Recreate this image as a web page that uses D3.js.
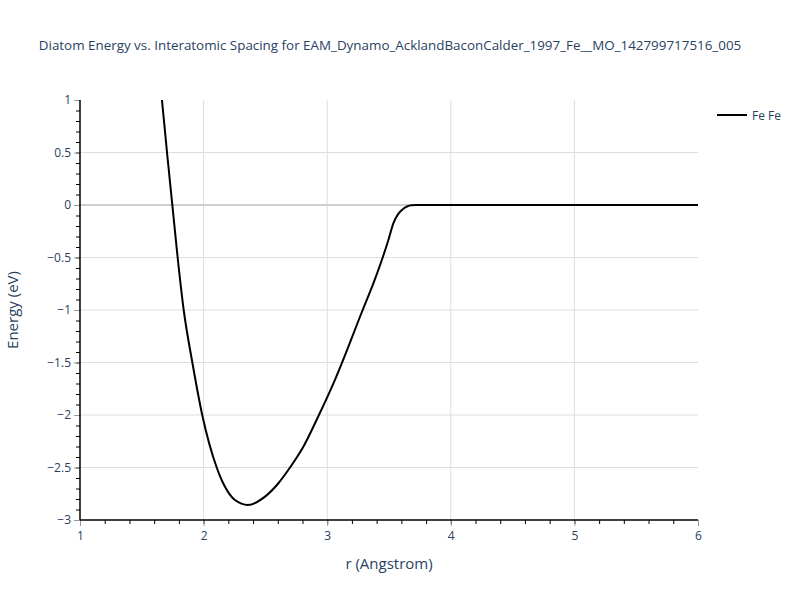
<!DOCTYPE html>
<html>
<head>
<meta charset="utf-8">
<script src="https://cdn.jsdelivr.net/npm/d3@7"></script>
<style>
  body { margin: 0; background: #fff; }
  svg { display: block; font-family: "Open Sans", "Noto Sans", sans-serif; }
</style>
</head>
<body>
<svg id="chart" width="800" height="600"></svg>
<script>
const titleText = "Diatom Energy vs. Interatomic Spacing for EAM_Dynamo_AcklandBaconCalder_1997_Fe__MO_142799717516_005";
const seriesName = "Fe Fe";
const xLabel = "r (Angstrom)";
const yLabel = "Energy (eV)";
const xTicks = [1, 2, 3, 4, 5, 6];
const yTicks = [1, 0.5, 0, -0.5, -1, -1.5, -2, -2.5, -3];
const rValues = [1.648, 1.663, 1.704, 1.747, 1.790, 1.839, 1.909, 1.989, 2.106, 2.146, 2.173, 2.254, 2.358, 2.497, 2.605, 2.699, 2.807, 2.933, 3.062, 3.287, 3.382, 3.449, 3.495, 3.535, 3.575, 3.616, 3.65, 3.68, 3.72, 4.0, 5.0, 6.0];
const energyValues = [1.16, 1.0, 0.5, 0.0, -0.5, -1.0, -1.5, -2.0, -2.5, -2.619, -2.683, -2.81, -2.857, -2.777, -2.65, -2.5, -2.302, -2.0, -1.667, -1.0, -0.72, -0.5, -0.333, -0.175, -0.085, -0.035, -0.012, -0.003, 0.0, 0.0, 0.0, 0.0];

const svg = d3.select("#chart");
const m = { left: 80, right: 102, top: 100, bottom: 80 };
const W = 800, H = 600;
const x = d3.scaleLinear().domain([1, 6]).range([m.left, W - m.right]);
const y = d3.scaleLinear().domain([-3, 1]).range([H - m.bottom, m.top]);
const textColor = "#2a3f5f";

// grid
const g = svg.append("g");
g.selectAll("line.vg").data(xTicks.filter(d => d > 1 && d < 6)).enter().append("line")
  .attr("x1", d => x(d)).attr("x2", d => x(d)).attr("y1", y(1)).attr("y2", y(-3))
  .attr("stroke", "#dedede").attr("stroke-width", 1);
g.selectAll("line.hg").data(yTicks.filter(d => d < 1 && d > -3 && d !== 0)).enter().append("line")
  .attr("x1", x(1)).attr("x2", x(6)).attr("y1", d => y(d)).attr("y2", d => y(d))
  .attr("stroke", "#dedede").attr("stroke-width", 1);
g.append("line").attr("x1", x(1)).attr("x2", x(6)).attr("y1", y(0)).attr("y2", y(0))
  .attr("stroke", "#cfcfcf").attr("stroke-width", 2);

// curve
svg.append("clipPath").attr("id", "clip").append("rect")
  .attr("x", x(1)).attr("y", y(1)).attr("width", x(6) - x(1)).attr("height", y(-3) - y(1));
const pts = rValues.map((r, i) => [r, energyValues[i]]);
svg.append("path").datum(pts).attr("clip-path", "url(#clip)")
  .attr("fill", "none").attr("stroke", "#000").attr("stroke-width", 2)
  .attr("d", d3.line().x(d => x(d[0])).y(d => y(d[1])).curve(d3.curveMonotoneX));

// x axis
const xAxisG = svg.append("g").attr("transform", `translate(0,${y(-3)})`);
xAxisG.call(d3.axisBottom(x).tickValues(d3.range(1, 6.001, 0.2)).tickSize(4).tickFormat(""))
  .call(a => a.select(".domain").remove())
  .call(a => a.selectAll("line").attr("stroke", "#000"));
xAxisG.append("g").call(d3.axisBottom(x).tickValues(xTicks).tickSize(6).tickFormat(d3.format("d")))
  .call(a => a.select(".domain").remove())
  .call(a => a.selectAll("line").attr("stroke", "#999"))
  .call(a => a.selectAll("text").attr("fill", textColor).attr("font-size", 12).attr("dy", "0.95em").attr("font-family", '"Open Sans", sans-serif'));
xAxisG.append("line").attr("x1", x(1)).attr("x2", x(6)).attr("stroke", "#000").attr("stroke-width", 1.5);

// y axis
const yAxisG = svg.append("g").attr("transform", `translate(${x(1)},0)`);
yAxisG.call(d3.axisLeft(y).tickValues(d3.range(-3, 1.001, 0.1)).tickSize(4).tickFormat(""))
  .call(a => a.select(".domain").remove())
  .call(a => a.selectAll("line").attr("stroke", "#000"));
const fmtY = d => (d < 0 ? "\u2212" + Math.abs(d) : String(d));
yAxisG.append("g").call(d3.axisLeft(y).tickValues(yTicks).tickSize(6).tickFormat(fmtY))
  .call(a => a.select(".domain").remove())
  .call(a => a.selectAll("line").attr("stroke", "#999"))
  .call(a => a.selectAll("text").attr("fill", textColor).attr("font-size", 12).attr("x", -9).attr("font-family", '"Open Sans", sans-serif'));
yAxisG.append("line").attr("y1", y(1)).attr("y2", y(-3)).attr("stroke", "#000").attr("stroke-width", 1.5);

// title
svg.append("text").attr("x", 390).attr("y", 50).attr("text-anchor", "middle")
  .attr("fill", textColor).attr("font-size", 13.4).text(titleText);

// axis labels
svg.append("text").attr("x", x(3.5)).attr("y", 569).attr("text-anchor", "middle")
  .attr("fill", textColor).attr("font-size", 15).text(xLabel);
svg.append("text").attr("transform", `translate(18,${y(-1)}) rotate(-90)`).attr("text-anchor", "middle")
  .attr("fill", textColor).attr("font-size", 15).text(yLabel);

// legend
const lg = svg.append("g").attr("transform", "translate(717,115)");
lg.append("line").attr("x1", 0).attr("x2", 30).attr("stroke", "#000").attr("stroke-width", 2);
lg.append("text").attr("x", 35).attr("y", 4.5).attr("fill", textColor).attr("font-size", 12).text(seriesName);
</script>
</body>
</html>
